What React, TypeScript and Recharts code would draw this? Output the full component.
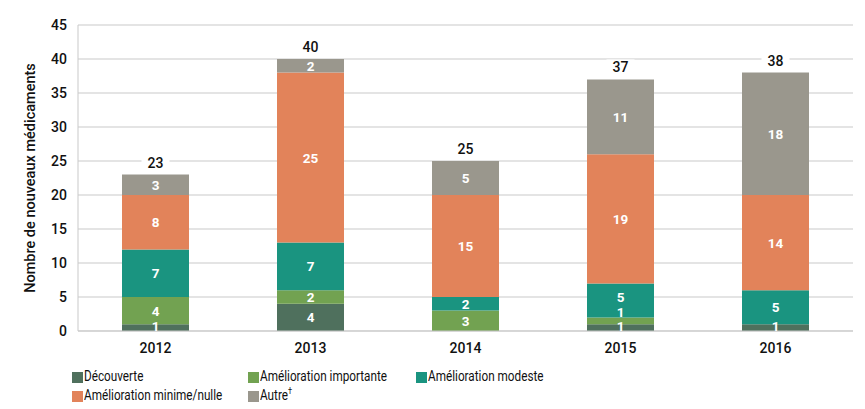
import React from 'react';
import { BarChart, Bar, XAxis, YAxis, CartesianGrid, LabelList, Legend } from 'recharts';

const years = ['2012', '2013', '2014', '2015', '2016'];
const decouverte = [1, 4, 0, 1, 1];
const importante = [4, 2, 3, 1, 0];
const modeste = [7, 7, 2, 5, 5];
const minime = [8, 25, 15, 19, 14];
const autre = [3, 2, 5, 11, 18];
const yTicks = [0, 5, 10, 15, 20, 25, 30, 35, 40, 45];

const series = [
  { key: 'decouverte', name: 'Découverte', color: '#4F705D', values: decouverte },
  { key: 'importante', name: 'Amélioration importante', color: '#72A251', values: importante },
  { key: 'modeste', name: 'Amélioration modeste', color: '#1A9480', values: modeste },
  { key: 'minime', name: 'Amélioration minime/nulle', color: '#E2835A', values: minime },
  { key: 'autre', name: 'Autre', color: '#9A978D', values: autre, sup: '†' },
];

const data = years.map((y, i) => {
  const row: any = { year: y };
  let total = 0;
  series.forEach((s) => {
    row[s.key] = s.values[i];
    total += s.values[i];
  });
  row.total = total;
  return row;
});

// label layout (in data units): keep small labels from colliding
const PX_PER_UNIT = 306 / 45;
const labelCenters: number[][] = years.map((_, i) => {
  const centers: number[] = [];
  let base = 0;
  let prev = -Infinity;
  series.forEach((s) => {
    const v = s.values[i];
    let c = base + v / 2;
    if (prev === -Infinity) c = Math.max(c, 5 / PX_PER_UNIT);
    if (v > 0 && prev !== -Infinity) c = Math.max(c, prev + 14.5 / PX_PER_UNIT);
    centers.push(c);
    if (v > 0) prev = c;
    base += v;
  });
  return centers;
});

const FONT = 'Roboto, "DejaVu Sans", sans-serif';

const makeInnerLabel = (si: number) => (props: any) => {
  const { x, y, width, height, value, index } = props;
  if (!value) return null;
  let base = 0;
  for (let k = 0; k < si; k++) base += series[k].values[index];
  const pxPerUnit = height / value;
  const cy = y + height - (labelCenters[index][si] - base) * pxPerUnit;
  return (
    <text
      x={x + width / 2}
      y={cy}
      textAnchor="middle"
      dominantBaseline="central"
      fill="#ffffff"
      fontFamily={FONT}
      fontWeight={700}
      fontSize={13.5}
    >
      {value}
    </text>
  );
};

const TotalLabel = (props: any) => {
  const { x, y, width, value } = props;
  const cx = x + width / 2;
  const cy = y - 12;
  const w = String(value).length * 9 + 10;
  return (
    <g>
      <rect x={cx - w / 2} y={cy - 8} width={w} height={16} fill="#ffffff" />
      <text
        x={cx}
        y={cy}
        textAnchor="middle"
        dominantBaseline="central"
        fill="#111111"
        fontFamily={FONT}
        fontWeight={500}
        fontSize={14}
      >
        {value}
      </text>
    </g>
  );
};

const legendLayout = [
  { idx: 0, left: 64, top: 0 },
  { idx: 1, left: 240, top: 0 },
  { idx: 2, left: 408, top: 0 },
  { idx: 3, left: 64, top: 19 },
  { idx: 4, left: 240, top: 19 },
];

const LegendContent = () => (
  <div style={{ position: 'relative', width: 857, height: 40, fontFamily: FONT }}>
    {legendLayout.map((l) => {
      const s: any = series[l.idx];
      return (
        <div
          key={s.key}
          style={{
            position: 'absolute',
            left: l.left,
            top: l.top,
            display: 'flex',
            alignItems: 'center',
            fontSize: 14.5,
            lineHeight: '16px',
            color: '#111111',
            whiteSpace: 'nowrap',
          }}
        >
          <span style={{ display: 'inline-block', width: 11, height: 11, background: s.color, marginRight: 1 }} />
          <span style={{ display: 'inline-block', transform: 'scaleX(0.81)', transformOrigin: 'left center' }}>
            {s.name}
            {s.sup ? <sup style={{ fontSize: 9, lineHeight: 0 }}>{s.sup}</sup> : null}
          </span>
        </div>
      );
    })}
  </div>
);

const YLabel = (props: any) => {
  const { viewBox } = props;
  const cx = viewBox.x - 8;
  const cy = viewBox.y + viewBox.height / 2;
  return (
    <text
      x={cx}
      y={cy}
      transform={`rotate(-90, ${cx}, ${cy})`}
      textAnchor="middle"
      dominantBaseline="central"
      fill="#111111"
      fontFamily={FONT}
      fontWeight={500}
      fontSize={14.5}
    >
      Nombre de nouveaux médicaments
    </text>
  );
};

export default function App() {
  return (
    <BarChart
      width={857}
      height={401}
      data={data}
      margin={{ top: 17, right: 12, bottom: 53, left: 30 }}
      barCategoryGap={44}
    >
      <CartesianGrid vertical={false} stroke="#c9c9c9" strokeWidth={1} />
      <XAxis
        dataKey="year"
        tickLine={false}
        axisLine={{ stroke: '#c9c9c9' }}
        height={25}
        tick={{ fill: '#111111', fontFamily: FONT, fontWeight: 500, fontSize: 14, dy: 4 }}
      />
      <YAxis
        width={40}
        domain={[0, 45]}
        ticks={yTicks}
        tickLine={false}
        axisLine={{ stroke: '#c9c9c9' }}
        interval={0}
        tick={{ fill: '#111111', fontFamily: FONT, fontWeight: 500, fontSize: 14, dx: -3 }}
        label={<YLabel />}
      />
      <Legend
        layout="vertical"
        verticalAlign="middle"
        align="center"
        content={<LegendContent />}
        wrapperStyle={{ left: 0, top: 361, width: 857, height: 40 }}
      />
      {series.map((s, si) => (
        <Bar key={s.key} dataKey={s.key} name={s.name} stackId="a" fill={s.color} isAnimationActive={false}>
          <LabelList dataKey={s.key} content={makeInnerLabel(si)} />
          {s.key === 'autre' ? <LabelList dataKey="total" content={<TotalLabel />} /> : null}
        </Bar>
      ))}
    </BarChart>
  );
}
